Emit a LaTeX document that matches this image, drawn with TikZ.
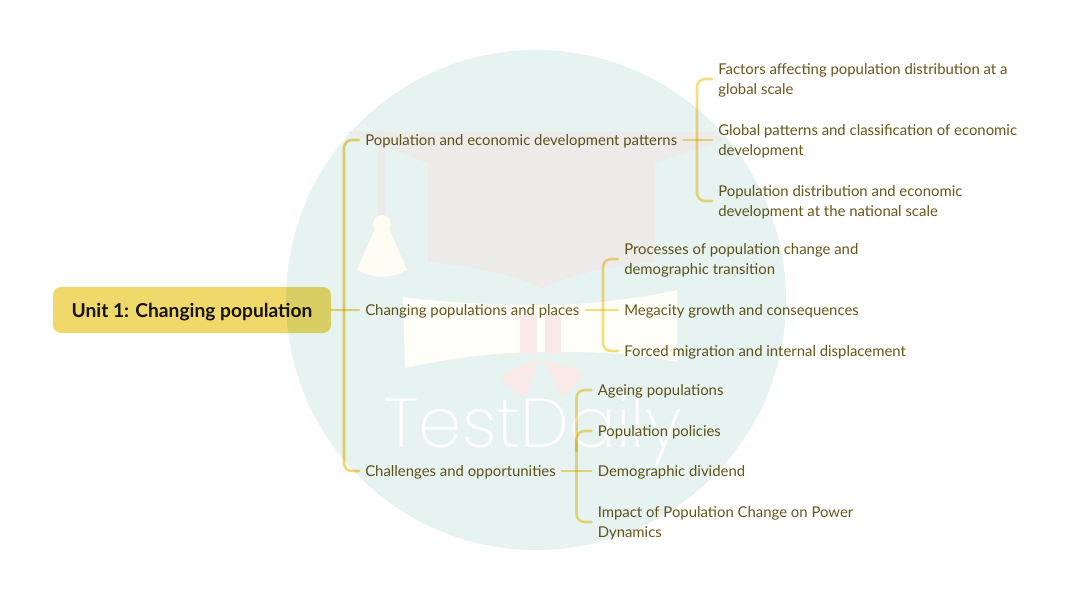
\documentclass[tikz,border=0pt]{standalone}
\usepackage{fontspec}
\setmainfont{Lato}
\newfontfamily\markfont{Poppins ExtraLight}
\definecolor{wmteal}{HTML}{E7F3F0}
\definecolor{wmgrey}{HTML}{ECEBEA}
\definecolor{wmcream}{HTML}{FFFEF9}
\definecolor{wmtassel}{HTML}{FEFCF3}
\definecolor{wmpink}{HTML}{F9E9E7}
\definecolor{rootfill}{HTML}{F0D96A}
\definecolor{branchline}{HTML}{F0D96A}
\definecolor{leafline}{HTML}{F6DE80}
\definecolor{topictext}{HTML}{66561A}
\newcommand\toplift{\rule{0pt}{10.8pt}}
\tikzset{
  rootbox/.style={fill=rootfill, rounded corners=6pt, minimum width=208.5pt, minimum height=34.5pt, font=\fontsize{14.4}{15}\selectfont\bfseries, text=black!90!rootfill},
  topic/.style={anchor=west, inner xsep=4.5pt, inner ysep=0pt, align=left, text=topictext, font=\fontsize{11.17}{15}\selectfont},
  mainline/.style={draw=branchline, line width=1.9pt, line cap=round, rounded corners=6pt},
  subline/.style={draw=leafline, line width=1.9pt, line cap=round, rounded corners=6pt}
}
\begin{document}
\begin{tikzpicture}[x=0.75pt,y=-0.75pt]
      \useasboundingbox (0,0) rectangle (1080,602);
      \fill [wmteal] (536,300) circle [radius=250];
      \fill [wmgrey] (378,130) rectangle (385,216);
      \fill [wmtassel] (382,224) circle [radius=9];
      \fill [wmtassel] (376,226) -- (388,226) -- (407,270) .. controls (390,279) and (374,279) .. (357,270) -- cycle;
      \fill [wmgrey] (347,132) -- (713,132) -- (723,140) -- (655,163) -- (655,262) .. controls (610,266) and (570,274) .. (542,289) .. controls (515,274) and (470,266) .. (428,262) -- (428,163) -- cycle;
      \fill [wmcream] (403,297) .. controls (450,303) and (500,305) .. (542,305) .. controls (590,305) and (640,298) .. (677,290) -- (677,362) .. controls (640,354) and (590,351) .. (542,352) .. controls (500,352) and (450,358) .. (405,368) -- cycle;
      \fill [wmpink] (520,315) rectangle (537,354);
      \fill [wmpink] (545,315) rectangle (561,354);
      \fill [wmpink] (539,358) -- (525,397) .. controls (515,393) and (506,386) .. (500,377) -- cycle;
      \fill [wmpink] (543,358) -- (583,373) .. controls (577,384) and (570,392) .. (562,397) -- cycle;
      \node [white, font=\fontsize{52}{52}\selectfont\markfont] (wm) at (533,431) {TestDaily};
      \begin{scope}[blend mode=multiply]
      \node [rootbox] (root) at (192,310) {\rule{0pt}{13.7pt}Unit 1: Changing population};
      \node [topic] (pop) at (359,140) {\toplift Population and economic development patterns};
      \node [topic] (chg) at (359,310) {\toplift Changing populations and places};
      \node [topic] (cha) at (359,471) {\toplift Challenges and opportunities};
      \node [topic] (fac) at (712,79) {\toplift Factors affecting population distribution at a\\global scale};
      \node [topic] (glo) at (712,140) {\toplift Global patterns and classification of economic\\development};
      \node [topic] (dis) at (712,201) {\toplift Population distribution and economic\\development at the national scale};
      \node [topic] (pro) at (618,259) {\toplift Processes of population change and\\demographic transition};
      \node [topic] (meg) at (618,310) {\toplift Megacity growth and consequences};
      \node [topic] (mig) at (618,351) {\toplift Forced migration and internal displacement};
      \node [topic] (age) at (591.5,390) {\toplift Ageing populations};
      \node [topic] (pol) at (591.5,431) {\toplift Population policies};
      \node [topic] (dem) at (591.5,471) {\toplift Demographic dividend};
      \node [topic] (imp) at (591.5,522) {\toplift Impact of Population Change on Power\\Dynamics};
      \draw [mainline] (root.east) -- (chg.west);
      \draw [mainline] (pop.west) -- ++(-15,0) |- (cha.west);
      \draw [subline] (pop.east) -- (glo.west);
      \draw [subline] (fac.west) -- ++(-15,0) |- (dis.west);
      \draw [subline] (chg.east) -- (meg.west);
      \draw [subline] (pro.west) -- ++(-15,0) |- (mig.west);
      \draw [subline] (cha.east) -- (dem.west);
      \draw [subline] (age.west) -- ++(-15,0) |- (imp.west);
      \draw [subline] (pol.west) -- ++(-15,0) -- ++(0,20);
      \end{scope}
\end{tikzpicture}
\end{document}
